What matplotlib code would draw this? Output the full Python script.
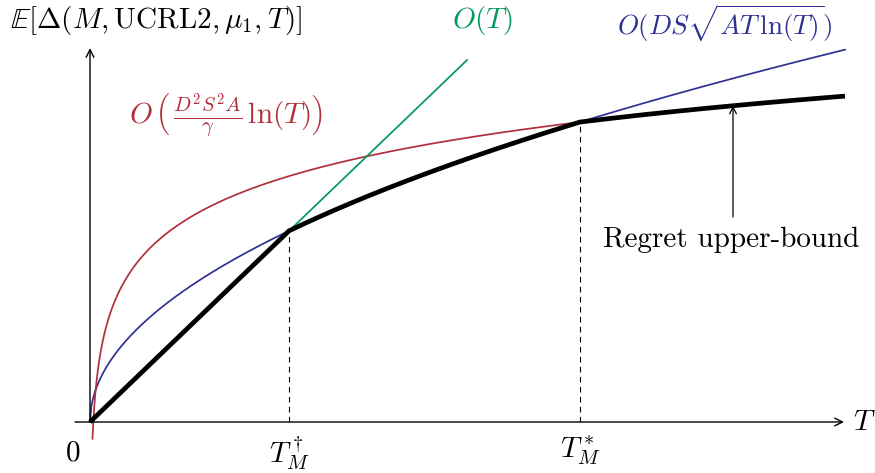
import matplotlib.pyplot as plt
import numpy as np

plt.rcParams['mathtext.fontset'] = 'cm'

# key points (axis units)
t_dagger = 1.99          # T_M^dagger
t_star = 4.90            # T_M^*
t_end = 7.55             # right end of the curves
t_green_end = 3.77       # where the O(T) line stops
t_red_start = 0.025      # red log curve starts just right of 0

# curve coefficients, fitted to the crossing points
lin_slope = 0.96         # O(T)
sqrt_coef = 1.355        # O(DS sqrt(AT ln T))
log_coef = 0.60          # O(D^2 S^2 A / gamma ln T)
log_shift = 2.046

green = '#00995a'
red = '#b0303b'
blue = '#2e3192'
fs = 21


def f_lin(t):
    return lin_slope * t


def f_sqrt(t):
    return sqrt_coef * np.sqrt(t)


def f_log(t):
    return log_coef * np.log(t) + log_shift


fig = plt.figure(figsize=(8.75, 4.73), dpi=100)
ax = fig.add_axes([0, 0, 1, 1])
ax.set_xlim(-0.90, 7.85)
ax.set_ylim(-0.51, 4.22)
ax.axis('off')

# axes with open arrow heads
ax.annotate('', xy=(7.54, 0), xytext=(-0.15, 0),
            arrowprops=dict(arrowstyle='->', lw=1.0, color='black',
                            shrinkA=0, shrinkB=0, mutation_scale=14))
ax.annotate('', xy=(0, 3.74), xytext=(0, 0),
            arrowprops=dict(arrowstyle='->', lw=1.0, color='black',
                            shrinkA=0, shrinkB=0, mutation_scale=14))

# dashed guides
ax.plot([t_dagger, t_dagger], [0, f_sqrt(t_dagger)], color='black',
        lw=0.8, ls=(0, (5, 4)))
ax.plot([t_star, t_star], [0, f_sqrt(t_star)], color='black',
        lw=0.8, ls=(0, (5, 4)))

# thin curves
tt = np.linspace(0, t_end, 600)
ax.plot(tt, f_sqrt(tt), color=blue, lw=1.25)
tr = np.geomspace(t_red_start, t_star, 600)
ax.plot(tr, f_log(tr), color=red, lw=1.25)
tg = np.array([t_dagger, t_green_end])
ax.plot(tg, f_lin(tg), color=green, lw=1.25)

# regret upper bound (thick black)
t1 = np.array([0, t_dagger])
t2 = np.linspace(t_dagger, t_star, 200)
t3 = np.linspace(t_star, t_end, 200)
bx = np.concatenate([t1, t2, t3])
by = np.concatenate([f_lin(t1), f_sqrt(t2), f_log(t3)])
ax.plot(bx, by, color='black', lw=3.4, solid_joinstyle='miter',
        solid_capstyle='butt')

# annotation arrow
ax.annotate('', xy=(6.43, f_log(6.43)), xytext=(6.43, 2.05),
            arrowprops=dict(arrowstyle='->', lw=0.9, color='black',
                            shrinkA=0, shrinkB=0, mutation_scale=12))
ax.text(6.41, 1.82, 'Regret upper-bound', fontsize=fs, family='cmr10',
        ha='center', va='center')

# labels
ax.text(-0.80, 4.02, r'$\mathbb{E}[\Delta(M,\mathrm{UCRL2},\mu_1,T)]$',
        fontsize=fs, ha='left', va='center')
ax.text(7.63, 0.0, r'$T$', fontsize=fs, ha='left', va='center')
ax.text(-0.17, -0.30, r'$0$', fontsize=fs, ha='center', va='center')
ax.text(t_dagger, -0.31, r'$T_M^\dagger$', fontsize=fs,
        ha='center', va='center')
ax.text(t_star, -0.29, r'$T_M^*$', fontsize=fs, ha='center', va='center')

ax.text(3.92, 4.02, r'$O(T)$', fontsize=fs, color=green,
        ha='center', va='center')
ax.text(6.35, 3.99, r'$O(DS\sqrt{AT\,\ln(T)})$', fontsize=19.5, color=blue,
        ha='center', va='center')
ax.text(1.36, 3.06, r'$O\,\left(\,\frac{D^2S^2A}{\gamma}\,\ln(T)\right)$',
        fontsize=fs, color=red, ha='center', va='center')

fig.savefig('out.png', dpi=100)
